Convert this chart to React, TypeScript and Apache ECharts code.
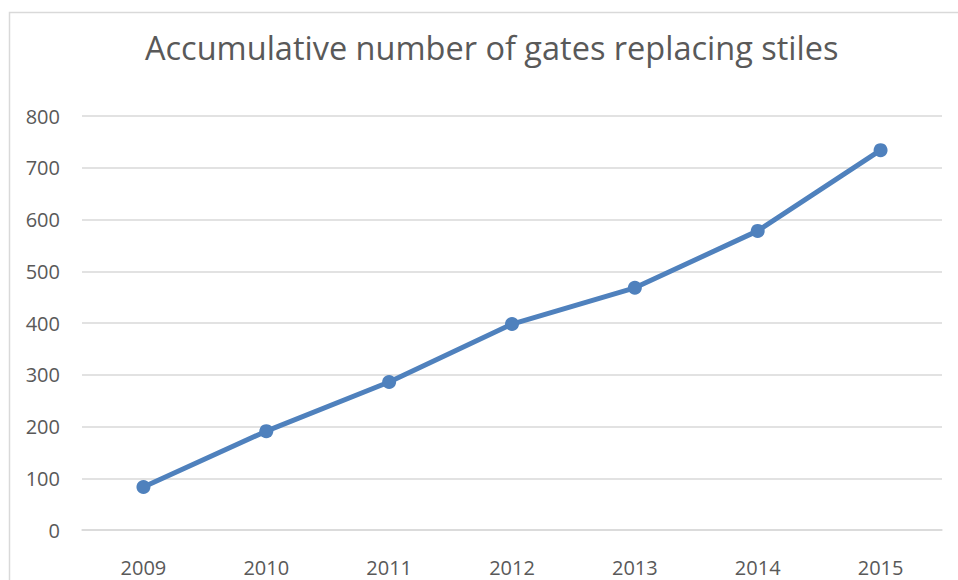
import React, { useEffect, useRef } from "react";
import * as echarts from "echarts";

const years = ["2009", "2010", "2011", "2012", "2013", "2014", "2015"];
const gates = [83, 191, 286, 398, 468, 578, 734];
const titleText = "Accumulative number of gates replacing stiles";

export default function App() {
  const ref = useRef<HTMLDivElement>(null);
  useEffect(() => {
    const chart = echarts.init(ref.current!, null, { renderer: "svg" });
    chart.setOption({
      animation: false,
      backgroundColor: "#ffffff",
      title: {
        text: titleText,
        left: 140,
        top: 26,
        textStyle: { fontFamily: "Open Sans", fontWeight: "normal", fontSize: 32.5, color: "#595959" },
      },
      graphic: [
        {
          type: "rect",
          shape: { x: 9.5, y: 12.5, width: 1000, height: 700 },
          style: { fill: "none", stroke: "#d9d9d9", lineWidth: 1.5 },
          silent: true,
        },
      ],
      grid: { left: 82, right: 16, top: 116, bottom: 50, containLabel: false },
      xAxis: {
        type: "category",
        data: years,
        boundaryGap: true,
        axisLine: { show: true, lineStyle: { color: "#d9d9d9", width: 1.5 } },
        axisTick: { show: false },
        axisLabel: { fontFamily: "Open Sans", fontSize: 20, color: "#595959", margin: 27 },
      },
      yAxis: {
        type: "value",
        min: 0,
        max: 800,
        interval: 100,
        axisLine: { show: false },
        axisTick: { show: false },
        axisLabel: { fontFamily: "Open Sans", fontSize: 20, color: "#595959", margin: 22 },
        splitLine: { lineStyle: { color: "#d9d9d9", width: 1.5 } },
      },
      series: [
        {
          type: "line",
          data: gates,
          symbol: "circle",
          symbolSize: 14,
          lineStyle: { color: "#4F81BD", width: 5 },
          itemStyle: { color: "#4F81BD" },
        },
      ],
    });
    return () => chart.dispose();
  }, []);
  return (
    <div
      ref={ref}
      style={{ position: "fixed", left: 0, top: 0, width: 958, height: 580 }}
    />
  );
}
